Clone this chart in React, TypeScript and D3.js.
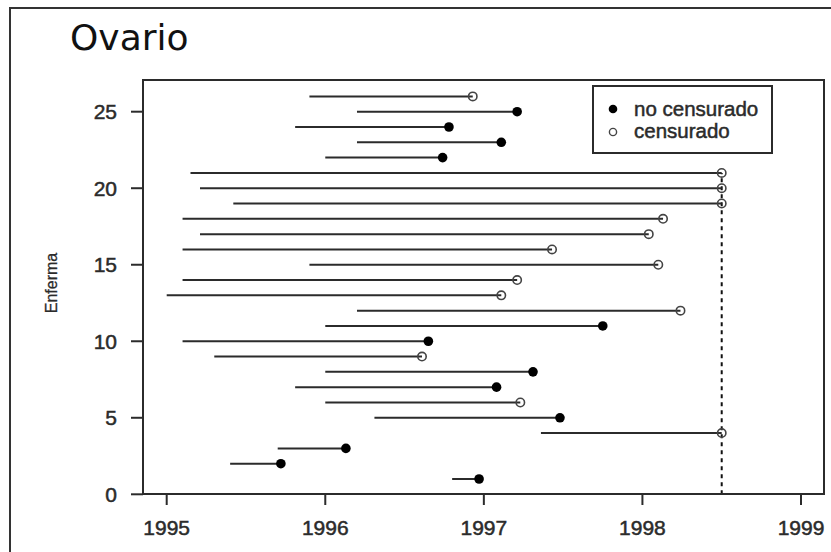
import React from "react";
import * as d3 from "d3";

// seguimiento de cada enferma: año de entrada, año de salida, evento (1 = no censurado)
const patients = [1, 2, 3, 4, 5, 6, 7, 8, 9, 10, 11, 12, 13, 14, 15, 16, 17, 18, 19, 20, 21, 22, 23, 24, 25, 26];
const entry = [
  1996.8, 1995.4, 1995.7, 1997.36, 1996.31, 1996.0, 1995.81, 1996.0, 1995.3, 1995.1, 1996.0, 1996.2, 1995.0,
  1995.1, 1995.9, 1995.1, 1995.21, 1995.1, 1995.42, 1995.21, 1995.15, 1996.0, 1996.2, 1995.81, 1996.2, 1995.9,
];
const exit = [
  1996.97, 1995.72, 1996.13, 1998.5, 1997.48, 1997.23, 1997.08, 1997.31, 1996.61, 1996.65, 1997.75, 1998.24,
  1997.11, 1997.21, 1998.1, 1997.43, 1998.04, 1998.13, 1998.5, 1998.5, 1998.5, 1996.74, 1997.11, 1996.78,
  1997.21, 1996.93,
];
const status = [1, 1, 1, 0, 1, 0, 1, 1, 0, 1, 1, 0, 0, 0, 0, 0, 0, 0, 0, 0, 0, 1, 1, 1, 1, 0];

const xTicks = [1995, 1996, 1997, 1998, 1999];
const yTicks = [0, 5, 10, 15, 20, 25];
const cutoff = 1998.5;
const legendLabels = ["no censurado", "censurado"];

const W = 831;
const H = 552;
const box = { left: 143, right: 824, top: 80, bottom: 494 };

export default function App() {
  const x = d3.scaleLinear().domain([1995, 1999]).range([166.7, 801]);
  const y = d3.scaleLinear().domain([0, 25]).range([494.3, 111.7]);
  const font = "'Liberation Sans', Arial, sans-serif";
  const ink = "#2b2b2b";
  // el original se ve algo borroso y grueso
  const heavy = { stroke: ink, strokeWidth: 0.5 };

  const rows = patients.map((p, i) => ({ p, start: entry[i], end: exit[i], event: status[i] }));

  return (
    <svg
      width={W}
      height={H}
      style={{ position: "absolute", left: 0, top: 0, background: "#fff" }}
    >
      <rect x={10} y={8} width={W + 10} height={H + 10} fill="none" stroke="#333" strokeWidth={2} />
      <text x={70} y={50} fontFamily="'DejaVu Sans', Verdana, sans-serif" fontSize={36} fill="#111">
        Ovario
      </text>

      {/* línea de corte */}
      <line
        x1={x(cutoff)}
        x2={x(cutoff)}
        y1={y(0)}
        y2={y(21)}
        stroke="#111"
        strokeWidth={2}
        strokeDasharray="4,4"
      />

      {rows.map((d) => (
        <g key={d.p}>
          <line x1={x(d.start)} x2={x(d.end)} y1={y(d.p)} y2={y(d.p)} stroke={ink} strokeWidth={2} />
          {d.event === 1 ? (
            <circle cx={x(d.end)} cy={y(d.p)} r={4.8} fill="#000" />
          ) : (
            <circle cx={x(d.end)} cy={y(d.p)} r={4.2} fill="none" stroke="#444" strokeWidth={1.6} />
          )}
        </g>
      ))}

      <rect
        x={box.left}
        y={box.top}
        width={box.right - box.left}
        height={box.bottom - box.top}
        fill="none"
        stroke={ink}
        strokeWidth={2}
      />

      {xTicks.map((t) => (
        <g key={t}>
          <line x1={x(t)} x2={x(t)} y1={box.bottom} y2={box.bottom + 11} stroke={ink} strokeWidth={2} />
          <text x={x(t)} y={535} textAnchor="middle" fontFamily={font} fontSize={21} fill={ink} {...heavy}>
            {t}
          </text>
        </g>
      ))}
      {yTicks.map((t) => (
        <g key={t}>
          <line x1={box.left - 12} x2={box.left} y1={y(t)} y2={y(t)} stroke={ink} strokeWidth={2} />
          <text
            x={117}
            y={y(t)}
            dy="0.35em"
            textAnchor="end"
            fontFamily={font}
            fontSize={21}
            fill={ink}
            {...heavy}
          >
            {t}
          </text>
        </g>
      ))}
      <text
        transform={`translate(57,283) rotate(-90)`}
        textAnchor="middle"
        fontFamily={font}
        fontSize={16}
        fill={ink}
        stroke={ink}
        strokeWidth={0.3}
      >
        Enferma
      </text>

      {/* leyenda */}
      <rect x={593} y={86} width={179} height={67} fill="#fff" stroke={ink} strokeWidth={2} />
      <circle cx={613} cy={109} r={4.3} fill="#000" />
      <circle cx={613} cy={132} r={3.6} fill="none" stroke="#444" strokeWidth={1.4} />
      {legendLabels.map((l, i) => (
        <text key={l} x={634} y={116 + i * 22} fontFamily={font} fontSize={20.5} fill={ink} {...heavy}>
          {l}
        </text>
      ))}
    </svg>
  );
}
